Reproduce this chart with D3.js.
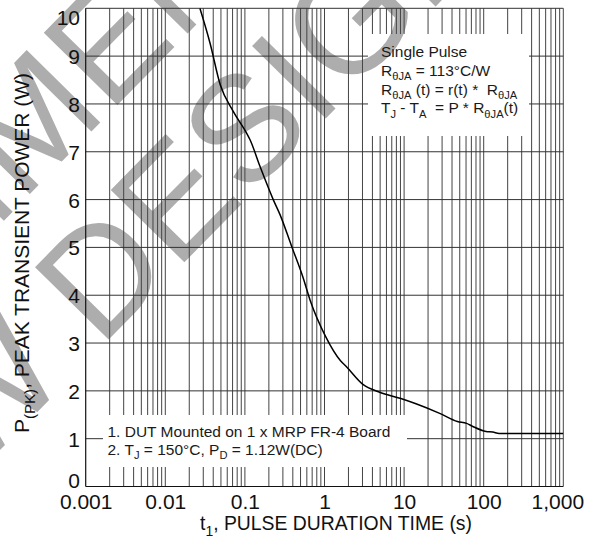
<!DOCTYPE html>
<html>
<head>
<meta charset="utf-8">
<script src="https://cdn.jsdelivr.net/npm/d3@7"></script>
<style>
  body { margin: 0; background: #fff; }
  svg { display: block; font-family: "Liberation Sans", Arial, Helvetica, sans-serif; }
  text { white-space: pre; }
</style>
</head>
<body>
<svg id="chart" width="593" height="543"></svg>
<script>
// values
const pulseTime = [0.0272, 0.0365, 0.049, 0.071, 0.105, 0.116, 0.155, 0.227, 0.277, 0.385, 0.535, 0.658,
  1.03, 1.59, 1.9, 3.07, 4.75, 9.1, 14.1, 28, 46.8, 61, 72, 107, 130, 156, 1000];
const peakPower = [10.0, 9.27, 8.4, 7.85, 7.39, 7.25, 6.69, 6.0, 5.68, 5.03, 4.38, 3.9,
  3.14, 2.63, 2.5, 2.13, 1.98, 1.84, 1.73, 1.53, 1.36, 1.32, 1.26, 1.15, 1.14, 1.11, 1.11];

const xTickValues = [0.001, 0.01, 0.1, 1, 10, 100, 1000];
const xTickLabels = ['0.001', '0.01', '0.1', '1', '10', '100', '1,000'];
const yTickValues = [0, 1, 2, 3, 4, 5, 6, 7, 8, 9, 10];

// text pieces: [text, isSubscript]
const pulseNote = [
  [['Single Pulse']],
  [['R'], ['θJA', 1], [' = 113°C/W']],
  [['R'], ['θJA', 1], [' (t) = r(t) *  R'], ['θJA', 1]],
  [['T'], ['J', 1], [' - T'], ['A', 1], ['  = P * R'], ['θJA', 1], ['(t)']]
];
const boardNote = [
  [['1. DUT Mounted on 1 x MRP FR-4 Board']],
  [['2. T'], ['J', 1], [' = 150°C, P'], ['D', 1], [' = 1.12W(DC)']]
];
const xTitle = [['t'], ['1', 1], [', PULSE DURATION TIME (s)']];
const yTitle = [['P'], ['(PK)', 1], [', PEAK TRANSIENT POWER (W)']];
const watermarkLines = ['NOT RECOMMENDED', 'FOR NEW DESIGN'];

const width = 593, height = 543;
const margin = { left: 85.7, right: 29.7, top: 8.3, bottom: 56.5 };

const svg = d3.select('#chart');
const x = d3.scaleLog().domain([0.001, 1000]).range([margin.left, width - margin.right]);
const y = d3.scaleLinear().domain([0, 10]).range([height - margin.bottom, margin.top]);

// boxes where the grid is left out
const pulseBox = { x0: 368, x1: 529, y0: 34, y1: 136 };
const boardBox = { x0: 103, x1: 407, y0: 415, y1: 467 };

const defs = svg.append('defs');
const mask = defs.append('mask').attr('id', 'gridMask')
  .attr('maskUnits', 'userSpaceOnUse')
  .attr('x', 0).attr('y', 0).attr('width', width).attr('height', height);
mask.append('rect').attr('width', width).attr('height', height).attr('fill', '#fff');
[pulseBox, boardBox].forEach(b => {
  mask.append('rect').attr('x', b.x0).attr('y', b.y0)
    .attr('width', b.x1 - b.x0).attr('height', b.y1 - b.y0).attr('fill', '#000');
});
defs.append('clipPath').attr('id', 'plotClip').append('rect')
  .attr('x', x.range()[0]).attr('y', y.range()[1])
  .attr('width', x.range()[1] - x.range()[0]).attr('height', y.range()[0] - y.range()[1]);

// watermark
const wm = svg.append('g')
  .attr('transform', 'translate(108,340) rotate(-45.5)')
  .attr('fill', '#adadad')
  .style('font-size', '150px');
const wm1 = wm.append('text').attr('y', -158).text(watermarkLines[0]);
wm1.attr('x', 162 - wm1.node().getSubStringLength(0, 10));
const wm2 = wm.append('text').attr('y', 0).text(watermarkLines[1]);
wm2.attr('x', -11.5 - wm2.node().getSubStringLength(0, 8));

// grid
const grid = svg.append('g').attr('mask', 'url(#gridMask)');
const minorTimes = [];
for (let d = -3; d < 3; d++) {
  for (let k = 1; k < 10; k++) minorTimes.push(k * Math.pow(10, d));
}
minorTimes.push(1000);
grid.selectAll('.vgrid')
  .data(minorTimes.slice(1))
  .enter()
  .append('line')
  .attr('class', 'vgrid')
  .attr('x1', d => x(d)).attr('x2', d => x(d))
  .attr('y1', y(0)).attr('y2', y(10))
  .attr('stroke', '#444')
  .attr('stroke-width', 1);
grid.selectAll('.hgrid')
  .data(yTickValues.slice(1))
  .enter()
  .append('line')
  .attr('class', 'hgrid')
  .attr('x1', x(0.001)).attr('x2', x(1000))
  .attr('y1', d => y(d)).attr('y2', d => y(d))
  .attr('stroke', '#333')
  .attr('stroke-width', 1);

// frame (left and bottom)
svg.append('line').attr('x1', x(0.001)).attr('x2', x(0.001))
  .attr('y1', y(0)).attr('y2', y(10)).attr('stroke', '#111').attr('stroke-width', 1.2);
svg.append('line').attr('x1', x(0.001)).attr('x2', x(1000))
  .attr('y1', y(0)).attr('y2', y(0)).attr('stroke', '#111').attr('stroke-width', 1.2);

// curve
const data = pulseTime.map((t, i) => ({ t: t, p: peakPower[i] }));
const line = d3.line()
  .x(d => x(d.t))
  .y(d => y(d.p))
  .curve(d3.curveMonotoneX);
svg.append('path')
  .datum(data)
  .attr('clip-path', 'url(#plotClip)')
  .attr('fill', 'none')
  .attr('stroke', '#000')
  .attr('stroke-width', 1.5)
  .attr('d', line);

// axes labels
const xAxis = d3.axisBottom(x)
  .tickValues(xTickValues)
  .tickFormat((d, i) => xTickLabels[i])
  .tickSize(0);
const gx = svg.append('g')
  .attr('transform', `translate(0,${y(0)})`)
  .call(xAxis);
gx.select('.domain').remove();
gx.selectAll('text')
  .attr('y', 22).attr('dy', 0)
  .attr('dx', (d, i) => (i === xTickValues.length - 1 ? -6 : 0))
  .style('font-size', '21px')
  .attr('fill', '#111');

const yAxis = d3.axisLeft(y).tickValues(yTickValues).tickFormat(d3.format('d')).tickSize(0);
const gy = svg.append('g')
  .attr('transform', `translate(${x(0.001)},0)`)
  .call(yAxis);
gy.select('.domain').remove();
gy.selectAll('text')
  .attr('x', -5.7)
  .attr('dy', d => (d === 10 ? 9 : d === 0 ? -7 : 0))
  .style('dominant-baseline', 'central')
  .style('font-size', '21px')
  .attr('fill', '#111');
svg.selectAll('.tick text').attr('font-family', null);

// rich text helper (subscripts)
function richText(sel, parts, size) {
  const subSize = size * 0.72;
  let shifted = false;
  parts.forEach(p => {
    const isSub = !!p[1];
    const ts = sel.append('tspan').text(p[0]);
    if (isSub) {
      ts.style('font-size', subSize + 'px');
      if (!shifted) ts.attr('dy', size * 0.27);
      shifted = true;
    } else {
      ts.style('font-size', size + 'px');
      if (shifted) ts.attr('dy', -size * 0.27);
      shifted = false;
    }
  });
}

const noteG = svg.append('g').attr('fill', '#1a1a1a');
pulseNote.forEach((parts, i) => {
  const t = noteG.append('text')
    .attr('x', 381)
    .attr('y', 57.3 + i * 18.7);
  richText(t, parts, 15.5);
});
boardNote.forEach((parts, i) => {
  const t = noteG.append('text')
    .attr('x', 107.5)
    .attr('y', 436.7 + i * 18.4);
  richText(t, parts, 15.5);
});

// axis titles
const xt = svg.append('text')
  .attr('x', 336).attr('y', 530)
  .attr('text-anchor', 'middle')
  .attr('textLength', 272)
  .attr('lengthAdjust', 'spacingAndGlyphs')
  .attr('fill', '#111');
richText(xt, xTitle, 21);

const yt = svg.append('text')
  .attr('transform', 'translate(29,253) rotate(-90)')
  .attr('text-anchor', 'middle')
  .attr('textLength', 360)
  .attr('lengthAdjust', 'spacingAndGlyphs')
  .attr('fill', '#111');
richText(yt, yTitle, 21);
</script>
</body>
</html>
